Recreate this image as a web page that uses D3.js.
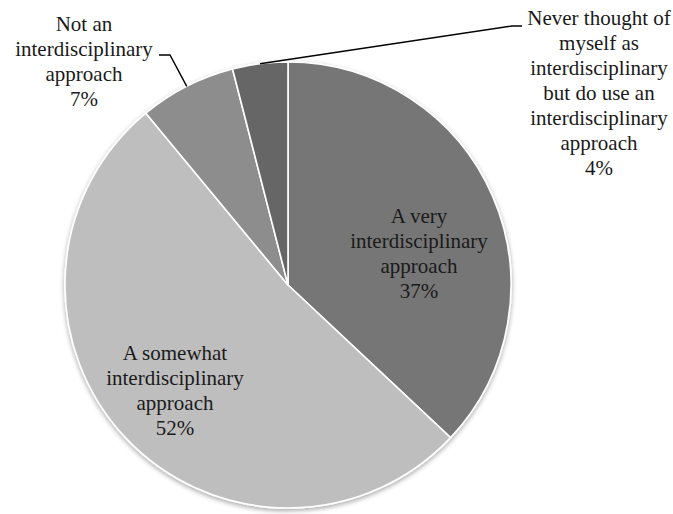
<!DOCTYPE html>
<html>
<head>
<meta charset="utf-8">
<script src="https://cdn.jsdelivr.net/npm/d3@7/dist/d3.min.js"></script>
<style>
  html, body { margin: 0; padding: 0; background: #fff; }
  svg { display: block; }
</style>
</head>
<body>
<svg id="chart" width="673" height="514"></svg>
<script>
// Survey responses: how respondents describe their approach
const categories = [
  "A very interdisciplinary approach",
  "A somewhat interdisciplinary approach",
  "Not an interdisciplinary approach",
  "Never thought of myself as interdisciplinary but do use an interdisciplinary approach"
];
const values = [37, 52, 7, 4];
const labelLines = [
  ["A very", "interdisciplinary", "approach", "37%"],
  ["A somewhat", "interdisciplinary", "approach", "52%"],
  ["Not an", "interdisciplinary", "approach", "7%"],
  ["Never thought of", "myself as", "interdisciplinary", "but do use an", "interdisciplinary", "approach", "4%"]
];
const colors = ["#767676", "#bebebe", "#8d8d8d", "#666666"];

// Layout
const cx = 288, cy = 285, radius = 223, lineHeight = 25;

// pick the first installed serif face (Times-like preferred)
function pickFont(candidates, fallback) {
  const ctx = document.createElement("canvas").getContext("2d");
  const sample = "interdisciplinary WMwi 37%";
  const widthWith = f => { ctx.font = `40px ${f}`; return ctx.measureText(sample).width; };
  for (const c of candidates) {
    const w1 = widthWith(`'${c}', monospace`);
    const w2 = widthWith(`'${c}', sans-serif`);
    if (w1 === w2) return `'${c}'`;
  }
  return fallback;
}
const fontFamily = pickFont(
  ["Liberation Serif", "Tinos", "Times New Roman", "Nimbus Roman", "Nimbus Roman No9 L", "FreeSerif", "DejaVu Serif", "Noto Serif", "Noto Serif CJK SC", "Source Serif Pro", "Georgia"],
  "serif"
);

// label block anchors: centre x, first baseline y, and optional leader elbow
const labelLayout = [
  { x: 419, y: 223 },
  { x: 175, y: 360 },
  { x: 84,  y: 31, elbow: [170, 55], end: [159, 55] },
  { x: 599, y: 25, elbow: [512, 26], end: [522, 26] }
];

const svg = d3.select("#chart");

const defs = svg.append("defs");
const shadow = defs.append("filter").attr("id", "pieShadow")
  .attr("x", "-10%").attr("y", "-10%").attr("width", "120%").attr("height", "120%");
shadow.append("feGaussianBlur").attr("in", "SourceAlpha").attr("stdDeviation", 2.5).attr("result", "blur");
shadow.append("feOffset").attr("in", "blur").attr("dx", 0).attr("dy", 2).attr("result", "off");
shadow.append("feComponentTransfer").attr("in", "off").attr("result", "soft")
  .append("feFuncA").attr("type", "linear").attr("slope", 0.35);
const merge = shadow.append("feMerge");
merge.append("feMergeNode").attr("in", "soft");
merge.append("feMergeNode").attr("in", "SourceGraphic");

const data = categories.map((c, i) => ({ category: c, value: values[i], lines: labelLines[i], color: colors[i], layout: labelLayout[i] }));

const pie = d3.pie().value(d => d.value).sort(null).startAngle(0).endAngle(2 * Math.PI);
const arcs = pie(data);
const arc = d3.arc().innerRadius(0).outerRadius(radius);
const edgeArc = d3.arc().innerRadius(radius).outerRadius(radius);

const g = svg.append("g").attr("transform", `translate(${cx},${cy})`);

// slices with a soft drop shadow
const sliceGroup = g.append("g").attr("filter", "url(#pieShadow)");
sliceGroup.selectAll("path")
  .data(arcs)
  .join("path")
  .attr("d", arc)
  .attr("fill", d => d.data.color)
  .attr("stroke", "#ffffff")
  .attr("stroke-width", 1.6)
  .attr("stroke-linejoin", "round");

// leader lines for the labels placed outside the pie
arcs.filter(d => d.data.layout.elbow).forEach(d => {
  const [ex, ey] = edgeArc.centroid(d);
  const L = d.data.layout;
  g.append("polyline")
    .attr("points", [[ex, ey], [L.elbow[0] - cx, L.elbow[1] - cy], [L.end[0] - cx, L.end[1] - cy]].map(p => p.join(",")).join(" "))
    .attr("fill", "none")
    .attr("stroke", "#000")
    .attr("stroke-width", 1.4);
});

// labels
svg.append("g").selectAll("text")
  .data(data)
  .join("text")
  .attr("text-anchor", "middle")
  .attr("font-family", fontFamily)
  .attr("font-size", 21)
  .attr("fill", "#1a1a1a")
  .each(function (d) {
    const t = d3.select(this);
    d.lines.forEach((line, i) => {
      t.append("tspan")
        .attr("x", d.layout.x)
        .attr("y", d.layout.y + i * lineHeight)
        .text(line);
    });
  });
</script>
</body>
</html>
